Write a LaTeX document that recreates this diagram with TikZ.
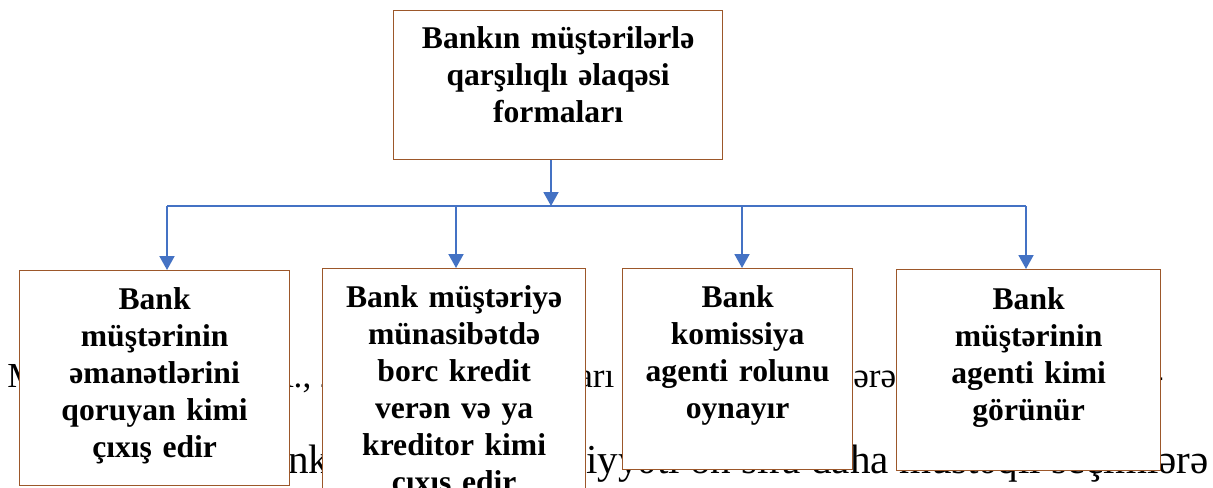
\documentclass[tikz,border=0pt]{standalone}
\usepackage{fontspec}
\setmainfont{Liberation Serif}
\usetikzlibrary{arrows.meta}
\definecolor{kbrown}{RGB}{156,87,42}
\definecolor{kblue}{RGB}{68,114,196}

\begin{document}
\begin{tikzpicture}[x=0.02cm,y=-0.02cm]

        \clip (0,0) rectangle (1213,487);
        \fill[white] (0,0) rectangle (1213,487);

        % page text behind the boxes
        \begin{scope}[every node/.style={inner sep=0pt, anchor=base west, font=\fontsize{20}{24}\selectfont}]
          \node (t1) at (7,387) {M};
          \node (t2) at (268,387) {A., 2};
          \node (t3) at (577,387) {arı};
          \node (t4) at (853,387) {ərəf};
          \node[anchor=base east] (t5) at (1164,387) {-};
        \end{scope}

        \begin{scope}[every node/.style={inner sep=0pt, anchor=base west, font=\fontsize{23.4}{28}\selectfont}]
          \node (t6) at (288,473) {nk};
          \node (t7) at (586,473) {iyyəti ön sıra daha müstəqil seçimlərə};
        \end{scope}

        \begin{scope}[every node/.style={draw=kbrown, fill=white, line width=0.75pt, inner sep=0pt, anchor=north west, align=center, font=\bfseries\fontsize{18}{21}\selectfont}]
          \node[text width=6.58cm, text height=0.76cm, text depth=2.22cm] (0) at (393,10) {Bankın müştərilərlə\\qarşılıqlı əlaqəsi\\formaları};
          \node[text width=5.4cm, text height=0.78cm, text depth=3.52cm] (1) at (19,270) {Bank\\müştərinin\\əmanətlərini\\qoruyan kimi\\çıxış edir};
          \node[text width=5.26cm, text height=0.78cm, text depth=4.02cm] (2) at (322,268) {Bank müştəriyə\\münasibətdə\\borc kredit\\verən və ya\\kreditor kimi\\çıxış edir};
          \node[text width=4.6cm, text height=0.78cm, text depth=3.24cm] (3) at (622,268) {Bank\\komissiya\\agenti rolunu\\oynayır};
          \node[text width=5.28cm, text height=0.8cm, text depth=3.22cm] (4) at (896,269) {Bank\\müştərinin\\agenti kimi\\görünür};
        \end{scope}

        \coordinate (k0) at (551,206);
        \coordinate (k1) at (167,206);
        \coordinate (k2) at (456,206);
        \coordinate (k3) at (742,206);
        \coordinate (k4) at (1026,206);

        \draw[kblue, line width=0.85pt] (k1) -- (k4);

        \begin{scope}[every edge/.style={draw, kblue, line width=1.1pt, -{Triangle[width=0.3cm,length=0.28cm]}}]
          \path (k0 |- 0.south) edge (k0);
          \path (k1) edge (k1 |- 1.north);
          \path (k2) edge (k2 |- 2.north);
          \path (k3) edge (k3 |- 3.north);
          \path (k4) edge (k4 |- 4.north);
        \end{scope}

      \end{tikzpicture}
\end{document}
